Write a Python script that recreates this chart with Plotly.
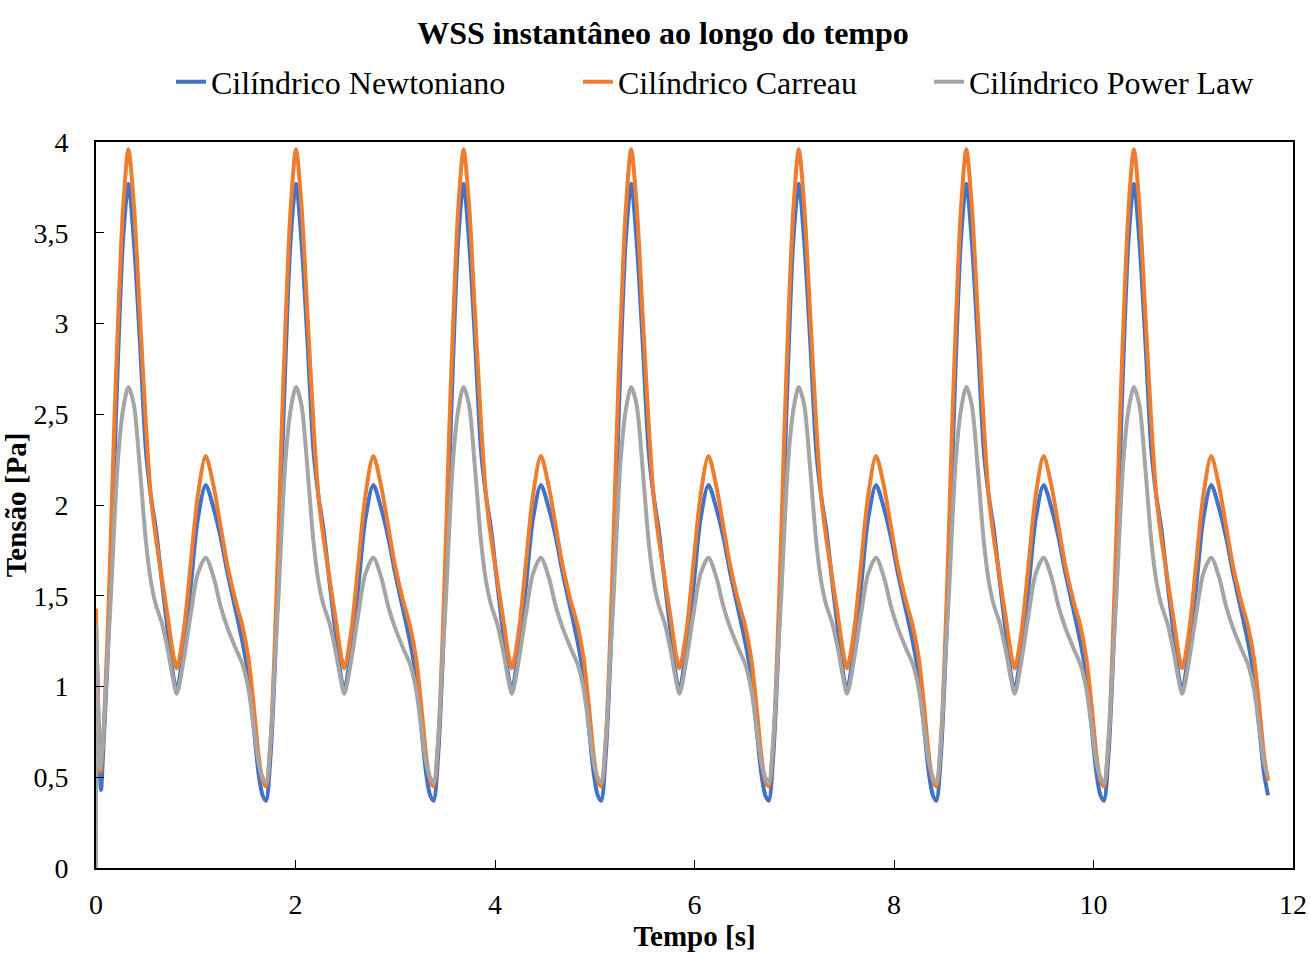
import numpy as np
import plotly.graph_objects as go

# ---- data ----
PERIOD = 1.68          # s, length of one cardiac cycle
N_CYCLES = 7
T_END = 11.75

# phase (s) within one cycle, and values (Pa) for each model
phase = [0.024, 0.07, 0.114, 0.15, 0.18, 0.22, 0.27, 0.325, 0.38, 0.44, 0.50, 0.55,
         0.60, 0.66, 0.72, 0.78, 0.81, 0.88, 0.95, 1.02, 1.10, 1.18, 1.25, 1.32, 1.40,
         1.47, 1.53, 1.58, 1.63, 1.67]

newtoniano = [0.37, 0.62, 1.12, 1.62, 2.15, 2.80, 3.45, 3.77, 3.45, 2.90, 2.30, 2.05,
              1.87, 1.58, 1.30, 1.04, 0.98, 1.22, 1.55, 1.92, 2.11, 1.98, 1.82, 1.62, 1.42,
              1.24, 1.05, 0.78, 0.52, 0.40]

carreau = [0.45, 0.70, 1.26, 1.85, 2.39, 3.00, 3.62, 3.96, 3.65, 3.05, 2.45, 2.05,
           1.82, 1.60, 1.38, 1.16, 1.10, 1.31, 1.68, 2.05, 2.27, 2.10, 1.88, 1.66, 1.47,
           1.33, 1.15, 0.90, 0.62, 0.48]

power_law = [0.47, 0.70, 1.15, 1.50, 1.85, 2.25, 2.52, 2.65, 2.55, 2.20, 1.80, 1.58,
             1.45, 1.35, 1.20, 1.02, 0.96, 1.15, 1.40, 1.62, 1.71, 1.60, 1.44, 1.32, 1.21,
             1.12, 0.98, 0.78, 0.58, 0.50]

# start-up transient at t = 0
start_t = {"n": [0.0, 0.002, 0.05], "c": [0.0, 0.045], "p": [0.0, 0.002, 0.04]}
start_v = {"n": [0.0, 1.25, 0.43], "c": [1.43, 0.53], "p": [0.0, 1.33, 0.55]}

x_ticks = [0, 2, 4, 6, 8, 10, 12]
y_ticks = [0, 0.5, 1, 1.5, 2, 2.5, 3, 3.5, 4]


def build(values, t0, v0):
    t, v = list(t0), list(v0)
    for k in range(N_CYCLES):
        for p, val in zip(phase, values):
            tt = k * PERIOD + p
            if k == 0 and p < 0.06:
                continue
            if tt <= T_END + 1e-9:
                t.append(tt)
                v.append(val)
    return t, v


series = [
    ("Cilíndrico Newtoniano", newtoniano, "n", "#4472C4", "legend"),
    ("Cilíndrico Carreau", carreau, "c", "#ED7D31", "legend2"),
    ("Cilíndrico Power Law", power_law, "p", "#A5A5A5", "legend3"),
]

FONT = "Liberation Serif, Times New Roman, serif"
L, R, T, B = 96, 18, 142, 86
PW = 1311 - L - R
PH = 954 - T - B


def px_x(px):
    return (px - L) / PW


legend_y = 1 + (T - 82) / PH

fig = go.Figure()
for name, vals, key, color, lg in series:
    t, v = build(vals, start_t[key], start_v[key])
    fig.add_trace(go.Scatter(
        x=t, y=v, mode="lines", name=name, legend=lg,
        line=dict(color=color, width=4, shape="spline", smoothing=0.8),
    ))

leg_common = dict(orientation="h", xanchor="left", y=legend_y, yanchor="middle",
                  font=dict(family=FONT, size=32, color="black"),
                  bgcolor="rgba(0,0,0,0)", borderwidth=0)

fig.update_layout(
    width=1311, height=954,
    paper_bgcolor="white", plot_bgcolor="white",
    margin=dict(l=L, r=R, t=T, b=B, autoexpand=False),
    separators=",.",
    font=dict(family=FONT, size=28, color="black"),
    title=dict(text="<b>WSS instantâneo ao longo do tempo</b>",
               x=663 / 1311, xanchor="center", y=1 - 33 / 954, yanchor="middle",
               yref="container", xref="container",
               font=dict(family=FONT, size=32, color="black")),
    legend=dict(x=px_x(171), **leg_common),
    legend2=dict(x=px_x(578), **leg_common),
    legend3=dict(x=px_x(929), **leg_common),
    showlegend=True,
)

fig.update_xaxes(
    range=[0, 12], tickvals=x_ticks, ticks="inside", ticklen=8, tickcolor="black",
    showline=True, linecolor="black", linewidth=2, mirror=True, showgrid=False,
    zeroline=False, ticklabelstandoff=10, automargin=False,
    title=dict(text="<b>Tempo [s]</b>", font=dict(family=FONT, size=29), standoff=4),
    tickfont=dict(family=FONT, size=28),
)
fig.update_yaxes(
    range=[0, 4], tickvals=y_ticks, ticks="inside", ticklen=8, tickcolor="black",
    showline=True, linecolor="black", linewidth=2, mirror=True, showgrid=False,
    zeroline=False, ticklabelstandoff=20, automargin=False,
    title=dict(text="<b>Tensão [Pa]</b>", font=dict(family=FONT, size=29), standoff=0),
    tickfont=dict(family=FONT, size=28),
)

fig.write_html("out.html")
